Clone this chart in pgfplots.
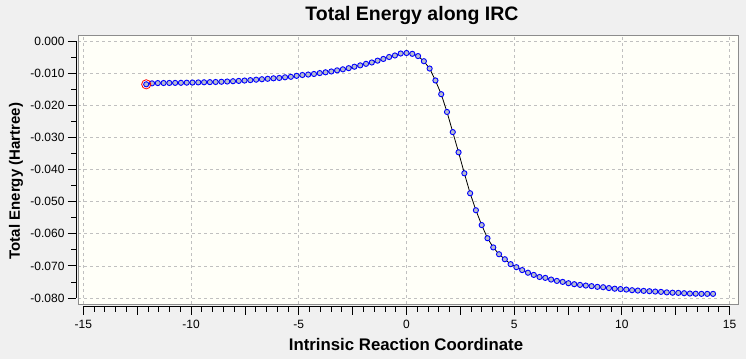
\documentclass[border=0pt]{standalone}
\usepackage{fontspec}
\setmainfont{Liberation Sans}
\usepackage{pgfplots}
\usepackage{pgfplotstable}
\pgfplotsset{compat=1.18}
\definecolor{bg}{RGB}{240,240,240}
\definecolor{plotbg}{RGB}{255,255,248}
\definecolor{framec}{RGB}{140,140,140}
\definecolor{gridc}{RGB}{192,192,192}
\definecolor{mfill}{RGB}{184,190,204}
\pgfplotstableread{
x y
-12.083 -0.01340
-11.814 -0.01310
-11.546 -0.01302
-11.277 -0.01300
-11.009 -0.01298
-10.740 -0.01296
-10.472 -0.01293
-10.203 -0.01289
-9.935 -0.01285
-9.666 -0.01281
-9.398 -0.01277
-9.129 -0.01273
-8.861 -0.01268
-8.592 -0.01261
-8.324 -0.01253
-8.055 -0.01244
-7.787 -0.01234
-7.518 -0.01223
-7.250 -0.01210
-6.981 -0.01196
-6.713 -0.01182
-6.444 -0.01168
-6.176 -0.01153
-5.907 -0.01142
-5.639 -0.01122
-5.370 -0.01106
-5.102 -0.01076
-4.833 -0.01050
-4.565 -0.01036
-4.296 -0.01018
-4.028 -0.00990
-3.759 -0.00966
-3.491 -0.00940
-3.222 -0.00905
-2.954 -0.00873
-2.685 -0.00837
-2.417 -0.00792
-2.148 -0.00750
-1.880 -0.00702
-1.611 -0.00660
-1.343 -0.00603
-1.074 -0.00550
-0.806 -0.00489
-0.537 -0.00442
-0.269 -0.00380
0.000 -0.00365
0.269 -0.00390
0.537 -0.00460
0.806 -0.00620
1.074 -0.00848
1.343 -0.01220
1.611 -0.01648
1.880 -0.02202
2.148 -0.02830
2.417 -0.03459
2.685 -0.04113
2.954 -0.04736
3.222 -0.05265
3.491 -0.05727
3.759 -0.06137
4.028 -0.06423
4.296 -0.06636
4.565 -0.06792
4.833 -0.06945
5.102 -0.07040
5.370 -0.07130
5.639 -0.07212
5.907 -0.07280
6.176 -0.07345
6.444 -0.07373
6.713 -0.07425
6.981 -0.07467
7.250 -0.07498
7.518 -0.07539
7.787 -0.07570
8.055 -0.07591
8.324 -0.07612
8.592 -0.07630
8.861 -0.07653
9.129 -0.07664
9.398 -0.07690
9.666 -0.07710
9.935 -0.07721
10.203 -0.07737
10.472 -0.07757
10.740 -0.07768
11.009 -0.07778
11.277 -0.07788
11.546 -0.07799
11.814 -0.07809
12.083 -0.07825
12.351 -0.07835
12.620 -0.07840
12.888 -0.07851
13.157 -0.07861
13.425 -0.07866
13.694 -0.07871
13.962 -0.07871
14.231 -0.07871
}\irc
\begin{document}
\begin{tikzpicture}[x=1pt,y=1pt]
\fill[bg] (0,0) rectangle (746,359);
\useasboundingbox (0,0) rectangle (746,359);
\begin{axis}[
  at={(78pt,55pt)}, anchor=south west,
  scale only axis, width=660pt, height=269pt,
  xmin=-15.25, xmax=15.39, ymin=-0.08186, ymax=0.00196,
  scaled ticks=false,
  axis background/.style={fill=plotbg},
  axis line style={framec, line width=1pt},
  xtick={-15,-10,-5,0,5,10,15},
  ytick={-0.08,-0.07,-0.06,-0.05,-0.04,-0.03,-0.02,-0.01,0},
  xticklabels={}, yticklabels={},
  tick style={draw=none},
  grid=major,
  grid style={gridc, dash pattern=on 3pt off 3pt, line width=0.8pt},
  every axis title shift=0pt,
  title={Total Energy along IRC},
  title style={at={(axis description cs:0.506,1.074)}, anchor=center, font=\fontsize{19.5}{22}\selectfont\bfseries},
  xlabel={Intrinsic Reaction Coordinate},
  xlabel style={at={(axis description cs:0.497,-0.152)}, anchor=center, font=\fontsize{16.8}{19}\selectfont\bfseries},
  ylabel={Total Energy (Hartree)},
  ylabel style={at={(axis description cs:-0.094,0.457)}, anchor=center, font=\fontsize{15}{18}\selectfont\bfseries},
]
\end{axis}
\begin{axis}[
  at={(83.4pt,61pt)}, anchor=south west,
  scale only axis, width=646.2pt, height=256.7pt,
  xmin=-15, xmax=15, ymin=-0.08, ymax=0,
  scaled ticks=false,
  axis x line*=bottom, axis y line*=left,
  axis x line shift=8.7pt, axis y line shift=7.4pt,
  axis line style={black, line width=0.9pt},
  tick align=outside, major tick length=8pt, minor tick length=5pt,
  tick style={black, line width=0.9pt},
  xtick={-15,-10,-5,0,5,10,15},
  xticklabels={-15,-10,-5,0,5,10,15},
  xticklabel style={yshift=-2pt},
  minor x tick num=9,
  extra x ticks={-12.5,-7.5,-2.5,2.5,7.5,12.5}, extra x tick labels={},
  ytick={-0.08,-0.07,-0.06,-0.05,-0.04,-0.03,-0.02,-0.01,0},
  yticklabels={-0.080,-0.070,-0.060,-0.050,-0.040,-0.030,-0.020,-0.010,0.000},
  minor y tick num=1,
  ticklabel style={font=\fontsize{12}{14}\selectfont},
  clip=false,
]
\addplot[black, line width=0.8pt, mark=*, mark size=2.6pt,
  mark options={draw=blue, fill=mfill, line width=0.9pt}] table[x=x,y=y] {\irc};
\addplot[only marks, mark=o, mark size=4.6pt, mark options={red, line width=0.8pt}]
  coordinates {(-12.083,-0.01340)};
\end{axis}
\end{tikzpicture}
\end{document}
